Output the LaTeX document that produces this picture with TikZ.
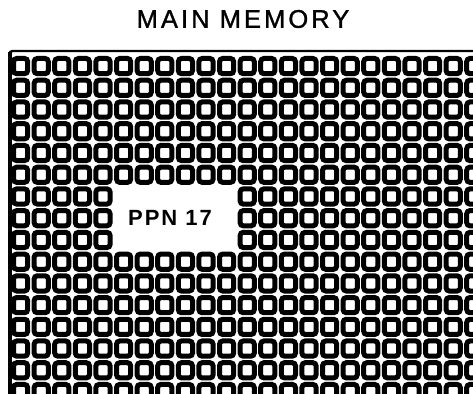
\documentclass[tikz,border=0pt]{standalone}
\usepackage{fontspec}
\setmainfont{Liberation Sans}
\newfontfamily\titlefont[LetterSpace=12,FakeBold=1.2]{Liberation Sans}
\newfontfamily\ppnfont[LetterSpace=9]{Liberation Sans}
\begin{document}
\begin{tikzpicture}[x=1pt,y=-1pt,
  cell/.style={line width=5pt, rounded corners=3.2pt},
  frameline/.style={line width=2.4pt, rounded corners=3pt},
  sideline/.style={line width=3.5pt},
  titletext/.style={font=\titlefont\fontsize{25.5}{30}\selectfont, inner sep=0pt},
  ppntext/.style={font=\ppnfont\bfseries\fontsize{22}{26}\selectfont, inner sep=0pt}]
\useasboundingbox (0,0) rectangle (473,393);
\begin{scope}
\clip (0,0) rectangle (473,393);
\node[titletext] (title) at (243,19) {MAIN MEMORY};
\draw[frameline] (9.5,395) -- (9.5,51) -- (476,51);
\draw[sideline] (9.8,52) -- (9.8,395);
\foreach \r in {0,...,15} {
  \foreach \c in {0,...,22} {
    \pgfmathtruncatemacro\gapflag{and(and(\r>5,\r<9),and(\c>4,\c<11))}
    \ifnum\gapflag=0
      \pgfmathsetmacro\xa{11+20.6*\c+2.5}
      \pgfmathsetmacro\ya{56+21.73*\r+2.5}
      \draw[cell] (\xa,\ya) rectangle ++(14.2,15.2);
    \fi
  }
}
\node[ppntext] (ppn) at (170,218) {PPN 17};
\end{scope}
\end{tikzpicture}
\end{document}
